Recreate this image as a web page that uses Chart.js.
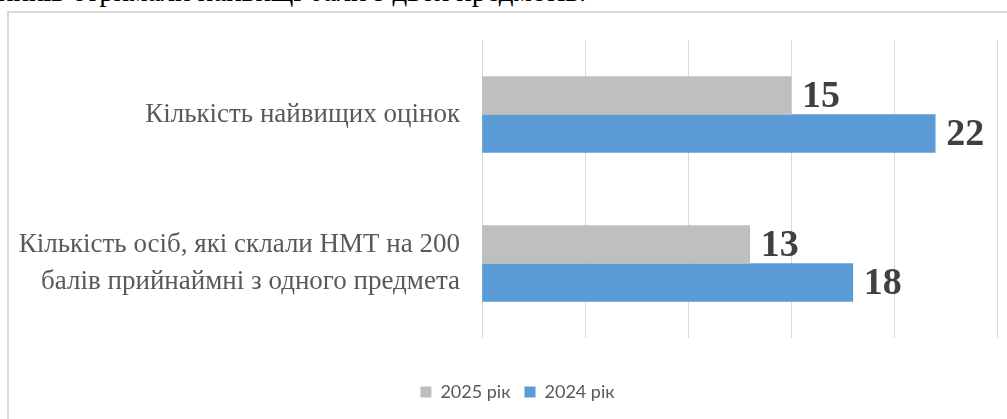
<!DOCTYPE html>
<html lang="uk">
  <head>
    <meta charset="UTF-8" />
    <title>НМТ 200 балів</title>
    <style>
      body{
        margin: 0;
        width: 1007px;
        height: 419px;
        overflow: hidden;
        background: #fff;
        position: relative;
      }
      .top-text{
        position: absolute;
        left: -2px;
        top: -25px;
        font-family: 'Liberation Serif', 'Times New Roman', serif;
        font-size: 29px;
        color: #000;
        white-space: nowrap;
      }
      .frame{
        position: absolute;
        left: 7px;
        top: 11px;
        width: 1020px;
        height: 430px;
        border: 2px solid #d9d9d9;
      }
      canvas{
        position: absolute;
        left: 0;
        top: 0;
      }
    </style>
  </head>
  <body>
    <div class="top-text">ників отримали найвищі бали з двох предметів.</div>
    <div class="frame"></div>
    <canvas id="chart" width="1007" height="419"></canvas>

    <script src="https://cdn.jsdelivr.net/npm/chart.js"></script>
    <script>
      const categories = [
        "Кількість найвищих оцінок",
        ["Кількість осіб, які склали НМТ на 200", "балів прийнаймні з одного предмета"]
      ];
      const seriesNames = ["2025 рік", "2024 рік"];
      const values2025 = [15, 13];
      const values2024 = [22, 18];

      // value labels next to the bar ends
      const valueLabels = {
        id: "valueLabels",
        afterDatasetsDraw(chart) {
          const ctx = chart.ctx;
          ctx.save();
          ctx.font = "bold 38px 'Liberation Serif', 'Times New Roman', serif";
          ctx.fillStyle = "#404040";
          ctx.textAlign = "left";
          ctx.textBaseline = "middle";
          chart.data.datasets.forEach((ds, i) => {
            chart.getDatasetMeta(i).data.forEach((bar, j) => {
              ctx.fillText(ds.data[j], bar.x + 11, bar.y + 2);
            });
          });
          ctx.restore();
        }
      };

      // the legend in the original is centred on the frame, a bit right of the page centre
      const shiftLegend = {
        id: "shiftLegend",
        afterLayout(chart) {
          chart.legend.left += 19;
          chart.legend.right += 19;
        }
      };

      new Chart(document.getElementById("chart"), {
        type: "bar",
        data: {
          labels: categories,
          datasets: [
            {
              label: seriesNames[0],
              data: values2025,
              backgroundColor: "#bfbfbf",
              barThickness: 38
            },
            {
              label: seriesNames[1],
              data: values2024,
              backgroundColor: "#5b9bd5",
              barThickness: 38
            }
          ]
        },
        options: {
          indexAxis: "y",
          responsive: false,
          animation: false,
          layout: {
            padding: { top: 40, right: 10, bottom: 8, left: 0 }
          },
          scales: {
            x: {
              min: 0,
              max: 25,
              ticks: { display: false, stepSize: 5 },
              grid: { color: "#d9d9d9", drawTicks: false },
              border: { display: false },
              afterFit(scale) { scale.height = 31; }
            },
            y: {
              grid: { display: false, drawTicks: false },
              border: { display: false },
              ticks: {
                color: "#595959",
                padding: 22,
                font: { family: "'Liberation Serif', 'Times New Roman', serif", size: 27, lineHeight: 1.37 }
              },
              afterFit(scale) {
                scale.width = 482;
                scale.paddingTop = 0;
                scale.paddingBottom = 0;
              }
            }
          },
          plugins: {
            legend: {
              position: "bottom",
              labels: {
                color: "#595959",
                boxWidth: 11,
                boxHeight: 11,
                padding: 14,
                font: { family: "Lato", size: 18 }
              }
            },
            tooltip: { enabled: false }
          }
        },
        plugins: [valueLabels, shiftLegend]
      });
    </script>
  </body>
</html>
